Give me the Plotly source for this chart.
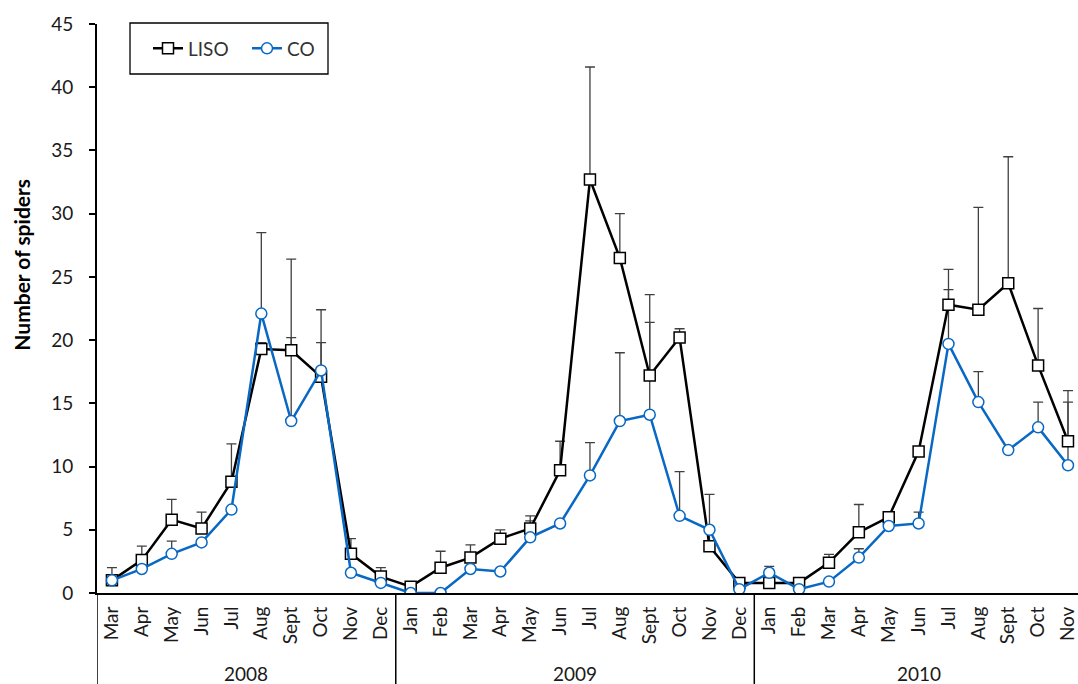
import plotly.graph_objects as go

# Monthly sampling periods, grouped by year
months = ["Mar", "Apr", "May", "Jun", "Jul", "Aug", "Sept", "Oct", "Nov", "Dec",
          "Jan", "Feb", "Mar", "Apr", "May", "Jun", "Jul", "Aug", "Sept", "Oct", "Nov", "Dec",
          "Jan", "Feb", "Mar", "Apr", "May", "Jun", "Jul", "Aug", "Sept", "Oct", "Nov"]
years = ["2008", "2009", "2010"]
months_per_year = [10, 12, 11]

# Mean number of spiders per sample
liso = [1.0, 2.6, 5.8, 5.1, 8.8, 19.3, 19.2, 17.1, 3.1, 1.3,
        0.5, 2.0, 2.8, 4.3, 5.1, 9.7, 32.7, 26.5, 17.2, 20.2, 3.7, 0.8,
        0.8, 0.8, 2.4, 4.8, 6.0, 11.2, 22.8, 22.4, 24.5, 18.0, 12.0]
co = [1.0, 1.9, 3.1, 4.0, 6.6, 22.1, 13.6, 17.6, 1.6, 0.8,
      0.0, 0.0, 1.9, 1.7, 4.4, 5.5, 9.3, 13.6, 14.1, 6.1, 5.0, 0.3,
      1.6, 0.3, 0.9, 2.8, 5.3, 5.5, 19.7, 15.1, 11.3, 13.1, 10.1]

# Standard errors (upper bars only)
liso_se = [1.0, 1.1, 1.6, 1.3, 3.0, 0.5, 7.2, 5.3, 1.2, 0.7,
           0.0, 1.3, 1.0, 0.7, 1.0, 2.3, 8.9, 3.5, 6.4, 0.7, 4.1, 0.0,
           0.0, 0.0, 0.65, 2.2, 0.1, 0.0, 2.8, 8.1, 10.0, 4.5, 4.0]
co_se = [0.0, 0.0, 1.0, 0.0, 0.0, 6.4, 6.6, 2.2, 0.0, 0.0,
         0.0, 0.0, 0.0, 0.0, 1.3, 0.0, 2.6, 5.4, 7.3, 3.5, 0.0, 0.0,
         0.5, 0.0, 0.0, 0.7, 0.0, 0.9, 4.3, 2.4, 0.0, 2.0, 5.0]

x = list(range(len(months)))
FONT = "Lato, 'Noto Sans', sans-serif"
BLUE = "#0868C4"
ERR = "#404040"
TXT = "#1a1a1a"

fig = go.Figure()

# Error bars drawn first so they sit beneath lines and markers
for vals, se in ((liso, liso_se), (co, co_se)):
    fig.add_trace(go.Scatter(
        x=x, y=vals, mode="markers",
        marker=dict(size=1, color="rgba(0,0,0,0)"),
        error_y=dict(type="data", symmetric=False, array=se,
                     arrayminus=[0] * len(se), color=ERR, thickness=1.3, width=5),
        showlegend=False, hoverinfo="skip"))

fig.add_trace(go.Scatter(
    x=x, y=liso, mode="lines+markers", name="LISO",
    line=dict(color="black", width=2.5),
    marker=dict(symbol="square", size=11, color="white",
                line=dict(color="black", width=1.5))))
fig.add_trace(go.Scatter(
    x=x, y=co, mode="lines+markers", name="CO",
    line=dict(color=BLUE, width=2.5),
    marker=dict(symbol="circle", size=11, color="white",
                line=dict(color=BLUE, width=1.5))))

# Year separators extending below the axis
bounds = [-0.5]
for n in months_per_year:
    bounds.append(bounds[-1] + n)
shapes = []
for b in bounds[:-1]:
    shapes.append(dict(type="line", xref="x", yref="paper", x0=b, x1=b,
                       y0=0, y1=-0.2, line=dict(color="black", width=1.5)))
# Legend frame
shapes.append(dict(type="rect", xref="paper", yref="paper",
                   x0=(130 - 97) / 981, x1=(328 - 97) / 981,
                   y0=(593 - 74) / 569, y1=(593 - 23) / 569,
                   line=dict(color="black", width=1.3), fillcolor="rgba(0,0,0,0)"))

annotations = []
for i, yr in enumerate(years):
    annotations.append(dict(x=(bounds[i] + bounds[i + 1]) / 2, y=-0.142,
                            xref="x", yref="paper", text=yr, showarrow=False,
                            font=dict(size=19, color=TXT, family=FONT),
                            yanchor="middle"))
annotations.append(dict(x=(22 - 97) / 981, y=0.577, xref="paper", yref="paper",
                        text="<b>Number of spiders</b>", textangle=-90,
                        showarrow=False, xanchor="center", yanchor="middle",
                        font=dict(size=21, color="black", family=FONT)))

fig.update_layout(
    width=1078, height=684,
    margin=dict(l=97, r=0, t=24, b=91, autoexpand=False),
    paper_bgcolor="white", plot_bgcolor="white",
    font=dict(family=FONT, color=TXT),
    shapes=shapes, annotations=annotations,
    legend=dict(orientation="h", x=(148 - 97) / 981, y=(593 - 48.5) / 569,
                xanchor="left", yanchor="middle",
                entrywidth=54, entrywidthmode="pixels",
                borderwidth=0, bgcolor="rgba(0,0,0,0)",
                font=dict(size=19, family=FONT, color="#333333")),
    xaxis=dict(range=[-0.5, 32.335], tickmode="array", tickvals=x,
               ticktext=months, tickangle=-90, ticks="", showgrid=False,
               zeroline=False, showline=True, linecolor="black", linewidth=2,
               automargin=False,
               ticklabeloverflow="allow", ticklabelstandoff=4,
               tickfont=dict(size=19, family=FONT)),
    yaxis=dict(range=[0, 45], tickmode="array", tickvals=list(range(0, 50, 5)),
               ticks="outside", ticklen=6, tickwidth=2, tickcolor="black",
               ticklabelstandoff=12, automargin=False,
               showgrid=False, zeroline=False, showline=True, linecolor="black",
               linewidth=2, tickfont=dict(size=19, family=FONT)),
)

fig.write_html("out.html")
